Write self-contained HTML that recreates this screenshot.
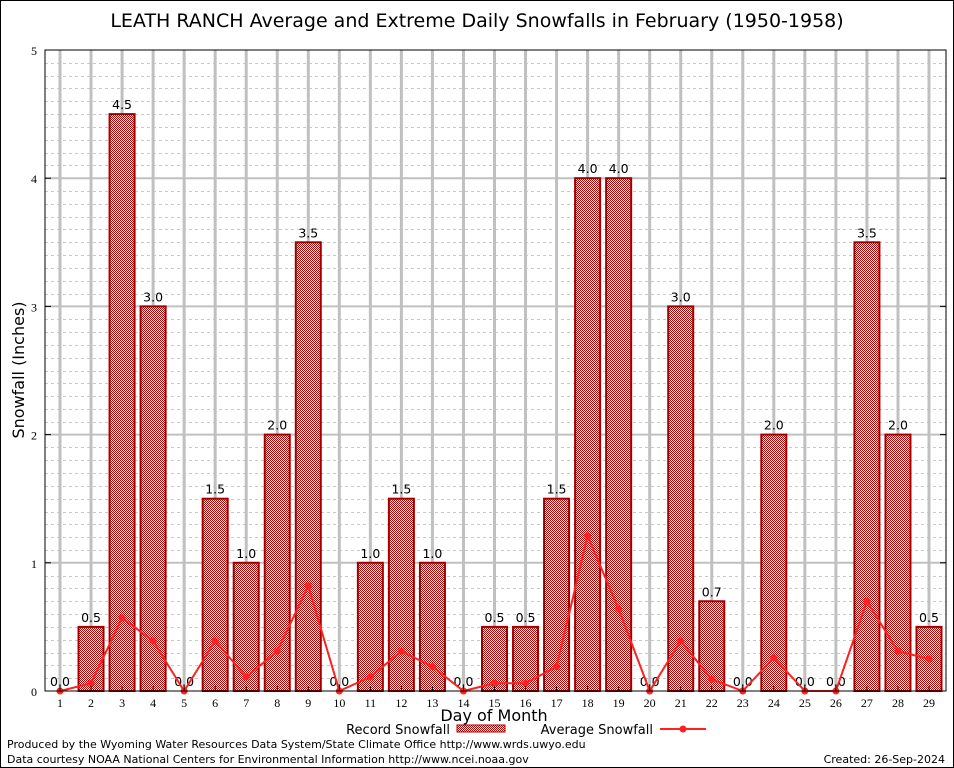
<!DOCTYPE html>
<html><head><meta charset="utf-8"><style>
body{margin:0;background:#fff;}
svg{display:block;font-family:"DejaVu Sans","Liberation Sans",sans-serif;}
</style></head><body>
<svg id="c" width="954" height="768">
<defs>
<pattern id="hatch" width="2" height="2" patternUnits="userSpaceOnUse">
<rect width="2" height="2" fill="#fff"/>
<rect width="1" height="1" fill="#b00000"/>
<rect x="1" y="1" width="1" height="1" fill="#b00000"/>
</pattern>
</defs>
<rect x="0.5" y="0.5" width="953" height="767" fill="#fff" stroke="#000"/>
<text x="477" y="27" font-size="19" text-anchor="middle">LEATH RANCH Average and Extreme Daily Snowfalls in February (1950-1958)</text>
<g id="grid"></g><g id="bars"></g><g id="line"></g><g id="axes"></g>
<text x="24" y="370" font-size="16" text-anchor="middle" transform="rotate(-90 24 370)">Snowfall (Inches)</text>
<text x="494" y="721" font-size="16" text-anchor="middle">Day of Month</text>
<g>
<text x="450" y="734" font-size="13" text-anchor="end">Record Snowfall</text>
<rect x="457" y="725" width="48" height="7" fill="url(#hatch)" stroke="#a00000"/>
<text x="653" y="734" font-size="13" text-anchor="end">Average Snowfall</text>
<line x1="660" y1="729" x2="706" y2="729" stroke="#ff2020" stroke-width="2"/>
<circle cx="683" cy="729" r="3.5" fill="#ff2020"/>
</g>
<text x="7" y="748" font-size="11">Produced by the Wyoming Water Resources Data System/State Climate Office http://www.wrds.uwyo.edu</text>
<text x="7" y="763" font-size="11">Data courtesy NOAA National Centers for Environmental Information http://www.ncei.noaa.gov</text>
<text x="945" y="763" font-size="11" text-anchor="end">Created:  26-Sep-2024</text>
</svg>
<script>
const days=[1,2,3,4,5,6,7,8,9,10,11,12,13,14,15,16,17,18,19,20,21,22,23,24,25,26,27,28,29];
const recordValues=[0,0.5,4.5,3.0,0,1.5,1.0,2.0,3.5,0,1.0,1.5,1.0,0,0.5,0.5,1.5,4.0,4.0,0,3.0,0.7,0,2.0,0,0,3.5,2.0,0.5];
const averageValues=[0,0.06,0.57,0.39,0,0.39,0.11,0.31,0.82,0,0.11,0.31,0.19,0,0.06,0.06,0.19,1.21,0.64,0,0.39,0.09,0,0.26,0,0,0.70,0.31,0.25];
const yTicks=[0,1,2,3,4,5];
const L=45,R=946,T=50,B=691;
const x=d=>60+(d-1)*(929-60)/28;
const y=v=>B-(v/5)*(B-T);
const NS='http://www.w3.org/2000/svg';
function mk(t,a,p){const e=document.createElementNS(NS,t);for(const k in a)e.setAttribute(k,a[k]);p.appendChild(e);return e;}
const grid=document.getElementById('grid'),bars=document.getElementById('bars'),line=document.getElementById('line'),axes=document.getElementById('axes');
for(let i=1;i<50;i++){if(i%10===0)continue;const g=mk('line',{x1:L,x2:R,y1:Math.round(y(i/10))+0.5,y2:Math.round(y(i/10))+0.5,stroke:'#c8c8c8','stroke-dasharray':'3,3','stroke-width':1},grid);

}
days.forEach(d=>{const g=mk('line',{x1:x(d),x2:x(d),y1:T,y2:B,stroke:'#c0c0c0','stroke-width':3},grid);

});
yTicks.forEach(t=>{if(t>0&&t<5){const g=mk('line',{x1:L,x2:R,y1:y(t),y2:y(t),stroke:'#c0c0c0','stroke-width':2},grid);

}
const tx=mk('text',{x:L-8,y:y(t)+5,'font-size':12,'text-anchor':'end','font-family':'Liberation Serif,serif'},axes);tx.textContent=t;


mk('line',{x1:L,x2:L+6,y1:y(t),y2:y(t),stroke:'#000'},axes);mk('line',{x1:R-6,x2:R,y1:y(t),y2:y(t),stroke:'#000'},axes);});
days.forEach((d,i)=>{const v=recordValues[i];
if(v>0){const b=mk('rect',{x:x(d)-12.5,y:y(v),width:25,height:B-y(v),fill:'url(#hatch)',stroke:'#a00000','stroke-width':2},bars);

}
const lb=mk('text',{x:x(d),y:y(v)-5,'font-size':12.5,'text-anchor':'middle'},bars);lb.textContent=v.toFixed(1);


const tl=mk('text',{x:x(d),y:B+16,'font-size':12,'text-anchor':'middle','font-family':'Liberation Serif,serif'},axes);tl.textContent=d;


mk('line',{x1:x(d),x2:x(d),y1:B,y2:B-5,stroke:'#000'},axes);});
const pts=days.map((d,i)=>x(d)+','+y(averageValues[i])).join(' ');
const pl=mk('polyline',{points:pts,fill:'none',stroke:'#ff2020','stroke-width':2},line);


days.forEach((d,i)=>{const c=mk('circle',{cx:x(d),cy:y(averageValues[i]),r:3.5,fill:'#ff2020'},line);

});
const fr=mk('rect',{x:L,y:T,width:R-L,height:B-T,fill:'none',stroke:'#000','stroke-width':1},axes);


</script>
</body></html>
